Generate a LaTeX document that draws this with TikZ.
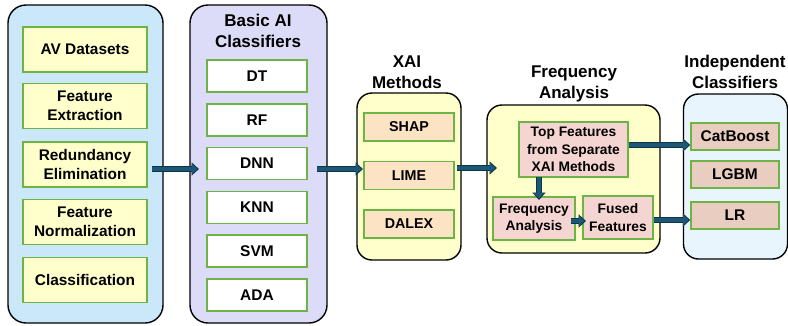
\documentclass[tikz,border=0pt]{standalone}
\usepackage{fontspec}
\setmainfont{Liberation Sans}
\usetikzlibrary{arrows.meta}
\definecolor{cblue}{HTML}{CAE8F9}
\definecolor{clav}{HTML}{DCDCF8}
\definecolor{cyel}{HTML}{FFFFCC}
\definecolor{cpale}{HTML}{E9F5FD}
\definecolor{borange}{HTML}{FBE3C4}
\definecolor{bpink}{HTML}{F5D5D1}
\definecolor{bbrown}{HTML}{EACDC1}
\definecolor{gborder}{HTML}{6DB346}
\definecolor{arrowc}{HTML}{1C5775}
\definecolor{arrowd}{HTML}{0E3448}
\tikzset{
  container/.style={draw=black, line width=1.4pt, rounded corners=18pt, inner sep=0pt},
  ibox/.style={draw=gborder, line width=1.4pt, inner sep=0pt, align=center, font=\bfseries},
  ttl/.style={align=center, font=\fontsize{17}{21}\selectfont\bfseries, inner sep=0pt},
  barrow/.style={draw=arrowd, line width=6.4pt, -{Triangle[width=13pt,length=7.5pt]}},
  barrowin/.style={draw=arrowc, line width=4.4pt, shorten >=1.6pt, -{Triangle[width=10pt,length=5.5pt]}},
}
\newcommand{\blockarrow}[2]{\draw[barrow] (#1) -- (#2); \draw[barrowin] (#1) -- (#2);}
\begin{document}
\begin{tikzpicture}[x=1pt,y=-1pt]
\useasboundingbox (0,0) rectangle (788,325);
% containers
\node[container, fill=cblue, minimum width=155pt, minimum height=318pt] (c1) at (85.5,164) {};
\node[container, fill=clav, minimum width=137pt, minimum height=318pt] (c2) at (258.5,164) {};
\node[container, fill=cyel, rounded corners=15pt, minimum width=104pt, minimum height=167pt] (c3) at (409,176.5) {};
\node[container, fill=cyel, rounded corners=15pt, minimum width=173pt, minimum height=148pt] (c4) at (573.5,179) {};
\node[container, fill=cpale, rounded corners=15pt, minimum width=104pt, minimum height=165pt] (c5) at (735.5,176.5) {};
% titles
\node[ttl] (t2) at (258,31) {Basic AI\\Classifiers};
\node[ttl] (t3) at (407,72.5) {XAI\\Methods};
\node[ttl] (t4) at (574,83.5) {Frequency\\Analysis};
\node[ttl] (t5) at (735,72) {Independent\\Classifiers};
% column 1
\tikzset{col1/.style={ibox, fill=cyel, minimum width=124pt, minimum height=45pt, font=\fontsize{15.4}{19.3}\selectfont\bfseries}}
\node[col1] (a1) at (85,49.5) {AV Datasets};
\node[col1] (a2) at (85,106) {Feature\\Extraction};
\node[col1] (a3) at (85,164.5) {Redundancy\\Elimination};
\node[col1] (a4) at (85,222) {Feature\\Normalization};
\node[col1] (a5) at (85,280) {Classification};
% column 2
\tikzset{col2/.style={ibox, fill=white, minimum width=100pt, minimum height=32pt, font=\fontsize{15.5}{19}\selectfont\bfseries}}
\node[col2] (b1) at (257,76) {DT};
\node[col2] (b2) at (257,120) {RF};
\node[col2] (b3) at (257,163.5) {DNN};
\node[col2] (b4) at (257,207.5) {KNN};
\node[col2] (b5) at (257,251) {SVM};
\node[col2] (b6) at (257,295) {ADA};
% column 3
\tikzset{col3/.style={ibox, fill=borange, minimum width=90pt, minimum height=28pt, font=\fontsize{14.3}{18}\selectfont\bfseries}}
\node[col3] (x1) at (409,127) {SHAP};
\node[col3] (x2) at (409,175.5) {LIME};
\node[col3] (x3) at (409,224) {DALEX};
% column 4
\tikzset{col4/.style={ibox, fill=bpink, font=\fontsize{13.8}{17.5}\selectfont\bfseries}}
\node[col4, minimum width=109pt, minimum height=55pt] (f1) at (573.5,149.5) {Top Features\\from Separate\\XAI Methods};
\node[col4, minimum width=82pt, minimum height=43pt] (f2) at (534,218.5) {Frequency\\Analysis};
\node[col4, minimum width=70pt, minimum height=43pt] (f3) at (618,217.5) {Fused\\Features};
% column 5
\tikzset{col5/.style={ibox, fill=bbrown, minimum width=88pt, minimum height=27pt, font=\fontsize{15.5}{19}\selectfont\bfseries}}
\node[col5] (i1) at (735,136.5) {CatBoost};
\node[col5] (i2) at (735,174.5) {LGBM};
\node[col5] (i3) at (735,215.5) {LR};
% arrows
\coordinate (p1s) at (152,169); \coordinate (p1e) at (199,169);
\coordinate (p2s) at (317,169); \coordinate (p2e) at (363,169);
\coordinate (p3s) at (457,168); \coordinate (p3e) at (497,168);
\blockarrow{p1s}{p1e}
\blockarrow{p2s}{p2e}
\blockarrow{p3s}{p3e}
\coordinate (d1) at (539,177); \coordinate (d2) at (539,200);
\blockarrow{d1}{d2}
\coordinate (q1) at (f1.east |- 0,145);
\coordinate (q2) at (i1.west |- 0,145);
\blockarrow{q1}{q2}
\coordinate (r1) at (571,221);
\coordinate (r2) at (586,221);
\blockarrow{r1}{r2}
\coordinate (s1) at (f3.east |- 0,220);
\coordinate (s2) at (i3.west |- 0,220);
\blockarrow{s1}{s2}
\end{tikzpicture}
\end{document}
